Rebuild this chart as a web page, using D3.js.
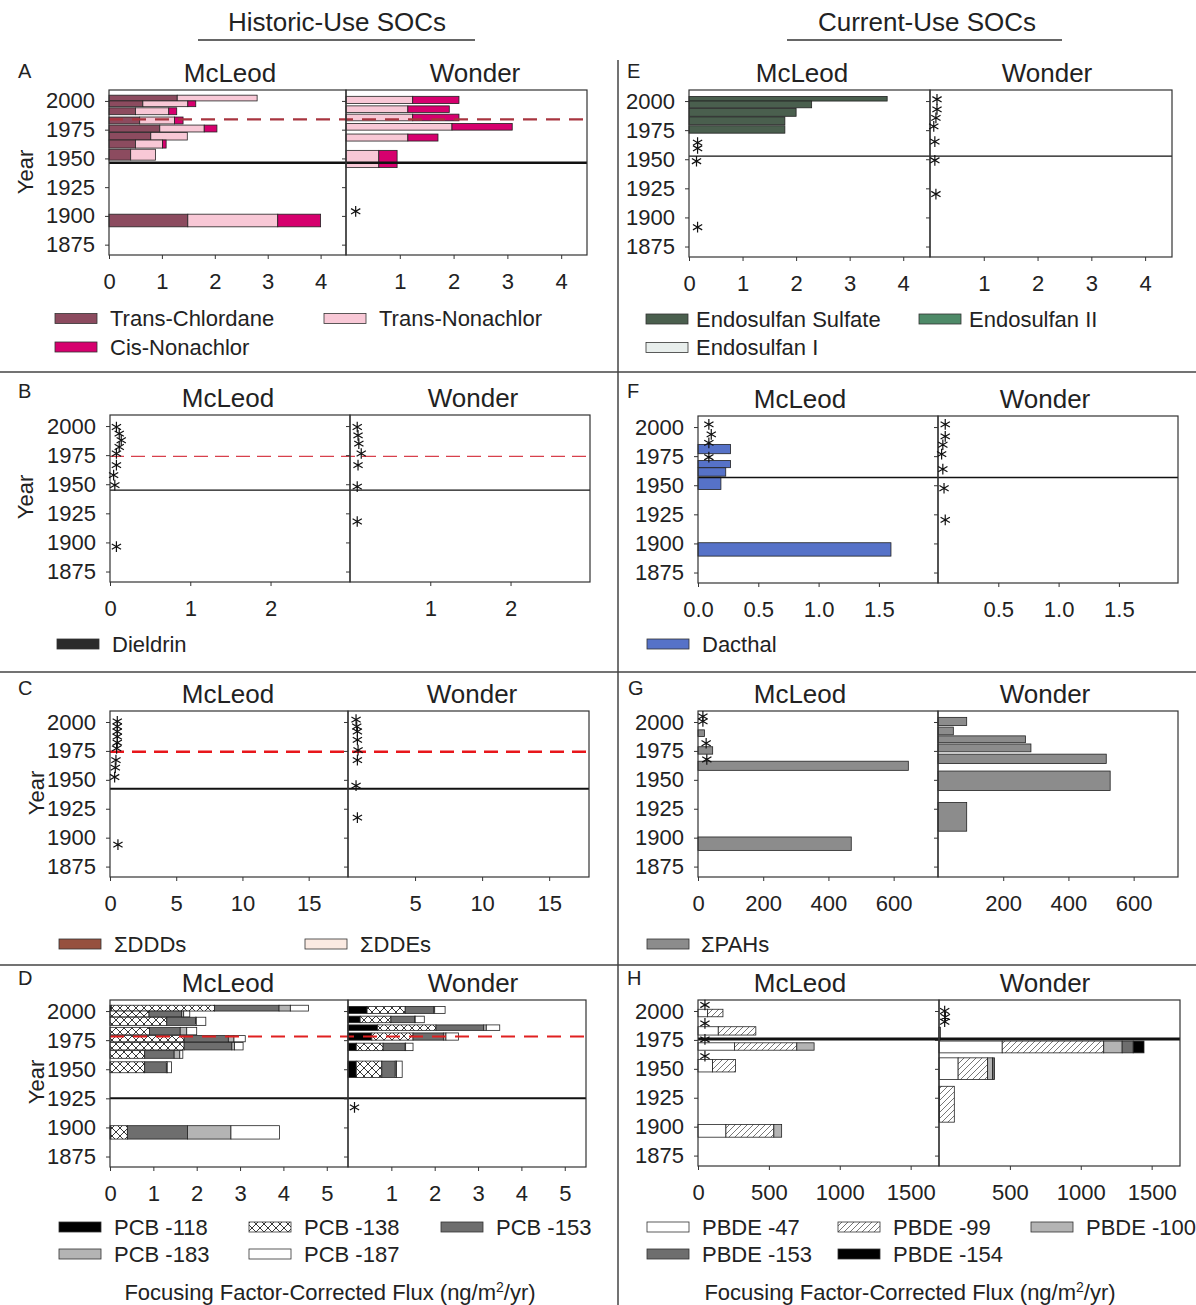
<!DOCTYPE html>
<html>
<head>
<meta charset="utf-8">
<script src="https://cdn.jsdelivr.net/npm/d3@7"></script>
<style>
  body { margin: 0; background: #fff; }
  svg { display: block; font-family: "Liberation Sans", Arial, sans-serif; }
</style>
</head>
<body>
<div id="chart"></div>
<script>
// ---- data: each bar row is [top year, bottom year, value per key...] ----
const yearTicks = [1875, 1900, 1925, 1950, 1975, 2000];

// A - chlordanes
const keysA = ["Trans-Chlordane", "Trans-Nonachlor", "Cis-Nonachlor"];
const mcleodA = [
    [2005, 2000, 1.29, 1.51, 0.00],
    [2000, 1995, 0.64, 0.85, 0.15],
    [1994, 1988, 0.50, 0.63, 0.15],
    [1986, 1980, 0.58, 0.66, 0.16],
    [1979, 1973, 0.96, 0.84, 0.24],
    [1972.5, 1966, 0.79, 0.69, 0.00],
    [1966, 1959, 0.50, 0.51, 0.07],
    [1958, 1948.5, 0.41, 0.47, 0.00],
    [1901.5, 1890.5, 1.49, 1.70, 0.81]
];
const wonderA = [
    [2004, 1997.7, 0, 1.24, 0.86],
    [1995.7, 1990, 0, 1.15, 0.77],
    [1988.5, 1982.7, 0, 1.24, 0.86],
    [1980.4, 1974.6, 0, 1.97, 1.12],
    [1971.2, 1965.1, 0, 1.15, 0.56],
    [1957, 1942, 0, 0.61, 0.34]
];
const starsWonderA = [[1904, 0.18]];

// B - dieldrin (all non detects)
const keysB = ["Dieldrin"];
const starsMcleodB = [[1999.2, 0.08], [1993.5, 0.115], [1987.8, 0.14], [1982, 0.115], [1976.4, 0.08],
    [1966.4, 0.08], [1957.8, 0.045], [1949.2, 0.06], [1896.4, 0.08]];
const starsWonderB = [[1999.2, 0.09], [1992, 0.1], [1984.9, 0.11], [1976.4, 0.14], [1966.4, 0.1],
    [1948, 0.09], [1918, 0.09]];

// C - DDTs (all non detects)
const keysC = ["ΣDDDs", "ΣDDEs"];
const starsMcleodC = [[2000.5, 0.55], [1996.1, 0.55], [1991.8, 0.55], [1987.4, 0.55], [1982.1, 0.55],
    [1977.2, 0.5], [1967, 0.45], [1960.6, 0.4], [1952.4, 0.35], [1894, 0.6]];
const starsWonderC = [[2002, 0.6], [1996.1, 0.65], [1991.8, 0.7], [1984.5, 0.7], [1975.7, 0.75],
    [1967, 0.7], [1945, 0.6], [1917.3, 0.7]];

// D - PCBs
const keysD = ["PCB -118", "PCB -138", "PCB -153", "PCB -183", "PCB -187"];
const mcleodD = [
    [2005, 2000, 0.03, 2.38, 1.49, 0.26, 0.42],
    [2000, 1995, 0.00, 0.90, 0.75, 0.05, 0.14],
    [1994.7, 1987.7, 0.00, 1.31, 0.66, 0.02, 0.22],
    [1986, 1979.6, 0.00, 0.91, 0.71, 0.15, 0.23],
    [1978.9, 1973.6, 0.00, 1.71, 1.02, 0.13, 0.26],
    [1973, 1966.6, 0.00, 1.71, 1.10, 0.06, 0.20],
    [1966, 1959.4, 0.00, 0.80, 0.68, 0.13, 0.07],
    [1956.4, 1947, 0.00, 0.80, 0.50, 0.02, 0.10],
    [1901.5, 1890, 0.02, 0.38, 1.39, 1.00, 1.12]
];
const wonderD = [
    [2004, 1998, 0.44, 0.88, 0.66, 0.02, 0.24],
    [1995.6, 1990, 0.28, 0.71, 0.55, 0.01, 0.21],
    [1988.1, 1983.4, 0.68, 1.35, 1.10, 0.06, 0.31],
    [1981.2, 1975, 0.55, 0.95, 0.70, 0.06, 0.29],
    [1972.4, 1966, 0.19, 0.62, 0.51, 0.01, 0.17],
    [1957, 1943, 0.19, 0.59, 0.31, 0.03, 0.13]
];
const starsWonderD = [[1917.2, 0.15]];

// E - endosulfans
const keysE = ["Endosulfan Sulfate", "Endosulfan II", "Endosulfan I"];
const mcleodE = [
    [2004, 2000, 3.70, 0, 0],
    [2000, 1994.2, 2.29, 0, 0],
    [1993.6, 1986.9, 2.00, 0, 0],
    [1986.4, 1979.7, 1.79, 0, 0],
    [1978.8, 1972.4, 1.79, 0, 0]
];
const starsMcleodE = [[1964.3, 0.16], [1959.4, 0.16], [1948.3, 0.14], [1891.6, 0.16]];
const starsWonderE = [[2001.5, 0.13], [1992.8, 0.13], [1985.5, 0.11], [1978.2, 0.07], [1965.1, 0.09],
    [1949.1, 0.09], [1920.1, 0.11]];

// F - dacthal
const keysF = ["Dacthal"];
const mcleodF = [
    [1985.1, 1977.1, 0.27],
    [1971.3, 1965.1, 0.27],
    [1965, 1957.8, 0.23],
    [1956.9, 1946.3, 0.19],
    [1900.6, 1889.1, 1.60]
];
const starsMcleodF = [[2002.3, 0.09], [1993.7, 0.11], [1986.4, 0.09], [1974.1, 0.09]];
const starsWonderF = [[2002.3, 0.06], [1992, 0.06], [1984.8, 0.04], [1976.7, 0.03], [1963.8, 0.04],
    [1947.4, 0.05], [1920.2, 0.06]];

// G - PAHs
const keysG = ["ΣPAHs"];
const mcleodG = [
    [1993.2, 1987.4, 20],
    [1978.6, 1972.2, 45],
    [1966.1, 1958.2, 645],
    [1900.6, 1889, 470]
];
const wonderG = [
    [2004, 1997, 88],
    [1995.6, 1988.9, 47],
    [1988, 1982.1, 268],
    [1981, 1974.2, 285],
    [1972.2, 1964.1, 516],
    [1957.6, 1940.7, 528],
    [1930.4, 1905.6, 88]
];
const starsMcleodG = [[2004.9, 15], [2000.5, 15], [1981.6, 25], [1967.6, 27]];

// H - PBDEs
const keysH = ["PBDE -47", "PBDE -99", "PBDE -100", "PBDE -153", "PBDE -154"];
const mcleodH = [
    [2001.5, 1995, 68, 108, 0, 0, 0],
    [1986.4, 1979.2, 143, 265, 0, 0, 0],
    [1972.5, 1966.1, 257, 440, 122, 0, 0],
    [1958, 1947.3, 103, 162, 0, 0, 0],
    [1901.9, 1890.9, 197, 338, 55, 0, 0]
];
const wonderH = [
    [1986, 1975, 10, 0, 0, 0, 0],
    [1974, 1963.8, 446, 716, 130, 78, 76],
    [1959.5, 1940.7, 135, 208, 35, 14, 0],
    [1934.9, 1903.9, 4, 104, 0, 0, 0]
];
const starsMcleodH = [[2005.2, 49], [1989.3, 49], [1975.4, 49], [1961, 49]];
const starsWonderH = [[2000, 40], [1994.8, 45], [1990.7, 40]];

// ---- svg ----
const svg = d3.select("#chart")
    .append("svg")
    .attr("width", 1196)
    .attr("height", 1305);

svg.append("rect").attr("width", 1196).attr("height", 1305).attr("fill", "#fff");

// Pattern per le barre tratteggiate
const defs = svg.append("defs");
const cross = defs.append("pattern").attr("id", "cross")
    .attr("patternUnits", "userSpaceOnUse").attr("width", 8).attr("height", 8);
cross.append("rect").attr("width", 8).attr("height", 8).attr("fill", "#fff");
cross.append("path").attr("d", "M0,0L8,8M8,0L0,8")
    .attr("stroke", "#222").attr("stroke-width", 0.9);

const diag = defs.append("pattern").attr("id", "diag")
    .attr("patternUnits", "userSpaceOnUse").attr("width", 6).attr("height", 6);
diag.append("rect").attr("width", 6).attr("height", 6).attr("fill", "#fff");
diag.append("path").attr("d", "M0,6L6,0M-1,1L1,-1M5,7L7,5")
    .attr("stroke", "#777").attr("stroke-width", 1);

const ink = "#222";

// ---- panel settings (layout) ----
const panels = [
    { letter: "A", letterPos: [18, 78], left: 109, mid: 346, right: 587, top: 90, bottom: 255,
      xMax: 4.48, ticks: [0, 1, 2, 3, 4], fmt: d3.format("d"),
      keys: keysA, fills: ["#8c4b5f", "#f8c8d6", "#d6006e"],
      mcleod: mcleodA, wonder: wonderA, starsM: [], starsW: starsWonderA,
      dash: { year: 1984, color: "#a8343f", width: 2.2, dash: "14,9" },
      solid: { year: 1946.3, width: 2.5 },
      titleX: [230, 475], yLabel: [25, 172],
      legend: [[55, 318.5], [324, 318.5], [55, 347]], legendGap: 55 },
    { letter: "B", letterPos: [18, 398], left: 110, mid: 350, right: 590, top: 415, bottom: 582,
      xMax: 2.99, ticks: [0, 1, 2], fmt: d3.format("d"),
      keys: keysB, fills: ["#2b2b2b"],
      mcleod: [], wonder: [], starsM: starsMcleodB, starsW: starsWonderB,
      dash: { year: 1974, color: "#d8404c", width: 1.3, dash: "14,7" },
      solid: { year: 1945, width: 1.3 },
      titleX: [228, 473], yLabel: [25, 497],
      legend: [[57, 644]], legendGap: 55 },
    { letter: "C", letterPos: [18, 695], left: 110, mid: 348, right: 589, top: 711, bottom: 877,
      xMax: 17.97, ticks: [0, 5, 10, 15], fmt: d3.format("d"),
      keys: keysC, fills: ["#96503e", "#fbeae2"],
      mcleod: [], wonder: [], starsM: starsMcleodC, starsW: starsWonderC,
      dash: { year: 1974.2, color: "#e8161b", width: 2.5, dash: "14,8" },
      solid: { year: 1942.2, width: 2 },
      titleX: [228, 472], yLabel: [36, 793],
      legend: [[59, 944], [305, 944]], legendGap: 55 },
    { letter: "D", letterPos: [18, 985], left: 110, mid: 348, right: 586, top: 1000, bottom: 1167,
      xMax: 5.49, ticks: [0, 1, 2, 3, 4, 5], fmt: d3.format("d"),
      keys: keysD, fills: ["#000", "url(#cross)", "#6e6e6e", "#b4b4b4", "#fff"],
      mcleod: mcleodD, wonder: wonderD, starsM: [], starsW: starsWonderD,
      dash: { year: 1978.2, color: "#e02020", width: 2, dash: "14,9" },
      solid: { year: 1925, width: 2 },
      titleX: [228, 473], yLabel: [36, 1082],
      legend: [[59, 1227], [249, 1227], [441, 1227], [59, 1254], [249, 1254]], legendGap: 55 },
    { letter: "E", letterPos: [627, 78], left: 689, mid: 930, right: 1172, top: 90, bottom: 257,
      xMax: 4.5, ticks: [0, 1, 2, 3, 4], fmt: d3.format("d"),
      keys: keysE, fills: ["#4a5f4e", "#4e8a68", "#e8eeec"],
      mcleod: mcleodE, wonder: [], starsM: starsMcleodE, starsW: starsWonderE,
      dash: null, solid: { year: 1952.6, width: 1.3 },
      titleX: [802, 1047], yLabel: null,
      legend: [[646, 319], [919, 319], [646, 347.5]], legendGap: 50 },
    { letter: "F", letterPos: [627, 398], left: 698, mid: 938, right: 1178, top: 416, bottom: 583,
      xMax: 1.99, ticks: [0, 0.5, 1, 1.5], fmt: d3.format(".1f"),
      keys: keysF, fills: ["#5672c8"],
      mcleod: mcleodF, wonder: [], starsM: starsMcleodF, starsW: starsWonderF,
      dash: null, solid: { year: 1956.6, width: 1.5 },
      titleX: [800, 1045], yLabel: null,
      legend: [[647, 644]], legendGap: 55 },
    { letter: "G", letterPos: [628, 695], left: 698, mid: 938, right: 1178, top: 711, bottom: 877,
      xMax: 736, ticks: [0, 200, 400, 600], fmt: d3.format("d"),
      keys: keysG, fills: ["#8c8c8c"],
      mcleod: mcleodG, wonder: wonderG, starsM: starsMcleodG, starsW: [],
      dash: null, solid: null,
      titleX: [800, 1045], yLabel: null,
      legend: [[647, 944]], legendGap: 54 },
    { letter: "H", letterPos: [627, 985], left: 698, mid: 939, right: 1180, top: 1000, bottom: 1166,
      xMax: 1700, ticks: [0, 500, 1000, 1500], fmt: d3.format("d"),
      keys: keysH, fills: ["#fff", "url(#diag)", "#b4b4b4", "#6e6e6e", "#000"],
      mcleod: mcleodH, wonder: wonderH, starsM: starsMcleodH, starsW: starsWonderH,
      dash: null, solid: { year: 1975.7, width: 3 },
      titleX: [800, 1045], yLabel: null,
      legend: [[647, 1227], [838, 1227], [1031, 1227], [647, 1254], [838, 1254]], legendGap: 55 }
];

panels.forEach(drawPanel);

function drawPanel(p) {
    const g = svg.append("g");
    const y = d3.scaleLinear().domain([1866, 2009.5]).range([p.bottom, p.top]);
    const xs = [
        d3.scaleLinear().domain([0, p.xMax]).range([p.left, p.mid]),
        d3.scaleLinear().domain([0, p.xMax]).range([p.mid, p.right])
    ];

    // Barre impilate
    [p.mcleod, p.wonder].forEach(function (rows, i) {
        const x = xs[i];
        const objs = rows.map(function (r) {
            const o = { top: r[0], bottom: r[1] };
            p.keys.forEach((k, j) => o[k] = r[j + 2]);
            return o;
        });
        const series = d3.stack().keys(p.keys)(objs);
        g.append("g").selectAll("g")
            .data(series)
            .join("g")
            .attr("fill", (d, j) => p.fills[j])
            .selectAll("rect")
            .data(d => d.filter(s => s[1] - s[0] > 0))
            .join("rect")
            .attr("x", d => x(d[0]))
            .attr("width", d => x(d[1]) - x(d[0]))
            .attr("y", d => y(d.data.top))
            .attr("height", d => y(d.data.bottom) - y(d.data.top))
            .attr("stroke", ink)
            .attr("stroke-width", 0.8);
    });

    // Linee orizzontali
    if (p.dash) {
        g.append("line")
            .attr("x1", p.left).attr("x2", p.right)
            .attr("y1", y(p.dash.year)).attr("y2", y(p.dash.year))
            .attr("stroke", p.dash.color)
            .attr("stroke-width", p.dash.width)
            .attr("stroke-dasharray", p.dash.dash);
    }
    if (p.solid) {
        g.append("line")
            .attr("x1", p.left).attr("x2", p.right)
            .attr("y1", y(p.solid.year)).attr("y2", y(p.solid.year))
            .attr("stroke", "#111")
            .attr("stroke-width", p.solid.width);
    }

    // Cornici
    [[p.left, p.mid], [p.mid, p.right]].forEach(function (c) {
        g.append("rect")
            .attr("x", c[0]).attr("y", p.top)
            .attr("width", c[1] - c[0]).attr("height", p.bottom - p.top)
            .attr("fill", "none")
            .attr("stroke", "#333")
            .attr("stroke-width", 1.2);
    });

    // Asterischi (non rilevati)
    const star = d3.symbol().type(d3.symbolAsterisk).size(80);
    [p.starsM, p.starsW].forEach(function (pts, i) {
        g.append("g").selectAll("path")
            .data(pts)
            .join("path")
            .attr("d", star)
            .attr("transform", d => `translate(${xs[i](d[1])},${y(d[0])})`)
            .attr("fill", "none")
            .attr("stroke", "#111")
            .attr("stroke-width", 1.2);
    });

    // Assi
    const yAxis = g.append("g")
        .attr("transform", `translate(${p.left},0)`)
        .call(d3.axisLeft(y).tickValues(yearTicks).tickSize(4).tickPadding(10).tickFormat(d3.format("d")));
    g.append("g")
        .attr("transform", `translate(${p.mid},0)`)
        .call(d3.axisLeft(y).tickValues(yearTicks).tickSize(4).tickFormat(""));
    g.append("g")
        .attr("transform", `translate(0,${p.bottom})`)
        .call(d3.axisBottom(xs[0]).tickValues(p.ticks).tickSize(4).tickPadding(14).tickFormat(p.fmt));
    g.append("g")
        .attr("transform", `translate(0,${p.bottom})`)
        .call(d3.axisBottom(xs[1]).tickValues(p.ticks.filter(t => t > 0)).tickSize(4).tickPadding(14).tickFormat(p.fmt));
    g.selectAll(".domain").remove();
    g.selectAll(".tick line").attr("stroke", "#333");
    g.selectAll(".tick text")
        .attr("fill", ink)
        .style("font-size", "22px")
        .style("font-family", "'Liberation Sans', Arial, sans-serif");

    // Titoli dei laghi
    ["McLeod", "Wonder"].forEach(function (t, i) {
        g.append("text")
            .attr("x", p.titleX[i]).attr("y", p.top - 8)
            .attr("text-anchor", "middle")
            .style("font-size", "26px")
            .attr("fill", ink)
            .text(t);
    });

    // Lettera del pannello
    g.append("text")
        .attr("x", p.letterPos[0]).attr("y", p.letterPos[1])
        .style("font-size", "20px")
        .attr("fill", ink)
        .text(p.letter);

    if (p.yLabel) {
        g.append("text")
            .attr("transform", `translate(${p.yLabel[0]},${p.yLabel[1]}) rotate(-90)`)
            .attr("text-anchor", "middle")
            .attr("dominant-baseline", "central")
            .style("font-size", "22px")
            .attr("fill", ink)
            .text("Year");
    }

    // Legenda
    p.keys.forEach(function (k, j) {
        const pos = p.legend[j];
        g.append("rect")
            .attr("x", pos[0]).attr("y", pos[1] - 5)
            .attr("width", 42).attr("height", 10)
            .attr("fill", p.fills[j])
            .attr("stroke", "#333")
            .attr("stroke-width", 0.8);
        g.append("text")
            .attr("x", pos[0] + p.legendGap).attr("y", pos[1])
            .attr("dy", "0.35em")
            .style("font-size", "22px")
            .attr("fill", ink)
            .text(k);
    });
}

// Intestazioni delle colonne
[["Historic-Use SOCs", 337, 198, 475], ["Current-Use SOCs", 927, 787, 1062]].forEach(function (h) {
    svg.append("text")
        .attr("x", h[1]).attr("y", 31)
        .attr("text-anchor", "middle")
        .style("font-size", "26px")
        .attr("fill", ink)
        .text(h[0]);
    svg.append("line")
        .attr("x1", h[2]).attr("x2", h[3])
        .attr("y1", 40).attr("y2", 40)
        .attr("stroke", "#333").attr("stroke-width", 1.5);
});

// Titoli asse x
[330, 910].forEach(function (cx) {
    const t = svg.append("text")
        .attr("x", cx).attr("y", 1300)
        .attr("text-anchor", "middle")
        .style("font-size", "22px")
        .attr("fill", ink);
    t.append("tspan").text("Focusing Factor-Corrected Flux (ng/m");
    t.append("tspan").attr("baseline-shift", "super").style("font-size", "14px").text("2");
    t.append("tspan").text("/yr)");
});

// Linee di separazione
svg.append("line")
    .attr("x1", 618).attr("x2", 618).attr("y1", 60).attr("y2", 1305)
    .attr("stroke", "#444").attr("stroke-width", 1.5);
[372, 672, 965].forEach(function (yy) {
    svg.append("line")
        .attr("x1", 0).attr("x2", 1196).attr("y1", yy).attr("y2", yy)
        .attr("stroke", "#444").attr("stroke-width", 1.5);
});
</script>
</body>
</html>
